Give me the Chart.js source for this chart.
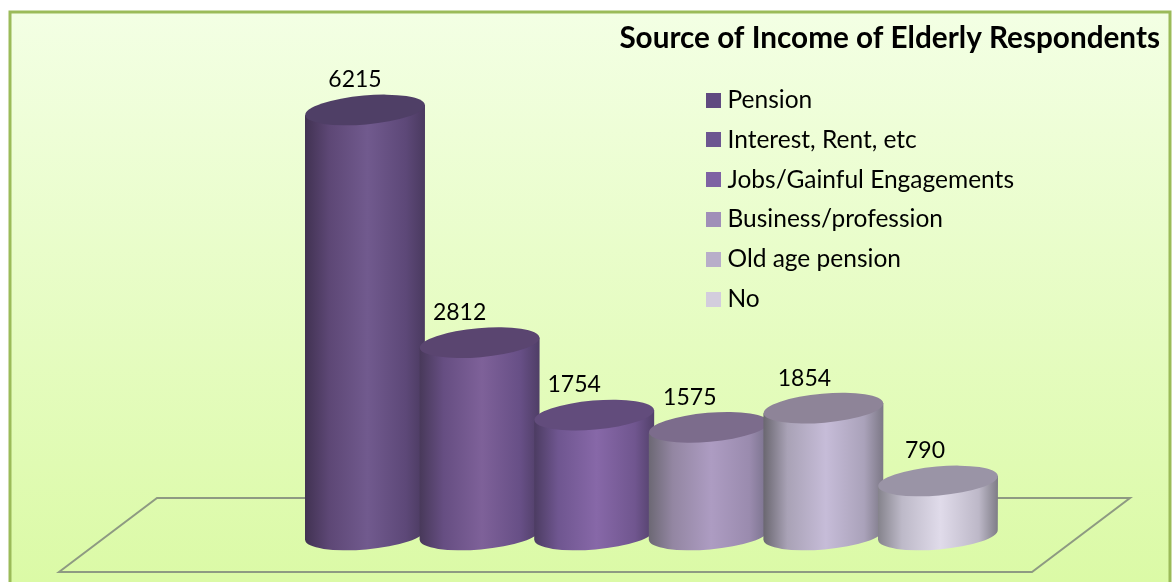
<!DOCTYPE html>
<html>
<head>
<meta charset="utf-8">
<script src="https://cdn.jsdelivr.net/npm/chart.js@4"></script>
<style>html,body{margin:0;padding:0;background:#fff}canvas{display:block}</style>
</head>
<body>
<canvas id="c" width="1173" height="582"></canvas>
<script>
const chartTitle = 'Source of Income of Elderly Respondents';
const categories = ['Pension', 'Interest, Rent, etc', 'Jobs/Gainful Engagements', 'Business/profession', 'Old age pension', 'No'];
const values = [6215, 2812, 1754, 1575, 1854, 790];

const legendColors = ['#604a80', '#6c5690', '#7e62a3', '#a08fb8', '#b8aec9', '#d3cddd'];
const sideStops = [
  ['#413252', '#5d4775', '#715a8e', '#5d4878', '#4a3a5f'],
  ['#48395a', '#664e82', '#7e6199', '#674f86', '#4f3e66'],
  ['#4c3c62', '#6f5690', '#8768a8', '#70568f', '#52406a'],
  ['#6c6874', '#9386a2', '#ad9cc2', '#9a8bae', '#77708a'],
  ['#6a6770', '#a9a2b6', '#c6bcd8', '#aaa2ba', '#7c7886'],
  ['#85838c', '#bdb9c8', '#e0dbea', '#bdb8c8', '#7e7c86']
];
const capColors = ['#4f3f66', '#5a4570', '#624c7c', '#7c6c8c', '#8e8498', '#9a94a6'];
const labelShift = [-10, -20, -20, -19, -19, -13];

const TILT = -5 * Math.PI / 180;
const CAP_RY = 14.5;

const shapes = {
  id: 'shapes',
  afterLayout(chart) {
    const lg = chart.legend;
    const w = lg.right - lg.left, h = lg.bottom - lg.top;
    lg.left = 696.45; lg.right = lg.left + w;
    lg.top = 72.45; lg.bottom = lg.top + h;
    const t = chart.titleBlock;
    t.left = 500; t.right = 1160;
  },
  beforeDraw(chart) {
    const c = chart.ctx;
    c.save();
    c.fillStyle = '#ffffff';
    c.fillRect(0, 0, chart.width, chart.height);
    const g = c.createLinearGradient(0, 12, 0, 582);
    g.addColorStop(0, '#f3ffe4');
    g.addColorStop(1, '#dbfaa6');
    c.fillStyle = g;
    c.fillRect(10, 12, 1160, 572);
    c.strokeStyle = '#9bbb59';
    c.lineWidth = 3;
    c.strokeRect(10, 12, 1160, 575);
    c.strokeStyle = '#8e9a82';
    c.lineWidth = 2;
    c.beginPath();
    c.moveTo(59, 572); c.lineTo(157, 498); c.lineTo(1130, 498); c.lineTo(1032, 572); c.closePath();
    c.stroke();
    c.restore();
  },
  beforeDatasetDraw(chart, args) {
    const c = chart.ctx;
    const els = chart.getDatasetMeta(args.index).data;
    els.forEach((el, i) => {
      const rx = el.width / 2;
      const g = c.createLinearGradient(el.x - rx, 0, el.x + rx, 0);
      const s = sideStops[i];
      [0, 0.2, 0.52, 0.84, 1].forEach((p, k) => g.addColorStop(p, s[k]));
      const dy = Math.tan(-TILT) * rx * 0.98;
      c.save();
      c.beginPath();
      c.moveTo(el.x - rx, el.y + dy);
      c.lineTo(el.x - rx, el.base + dy);
      c.ellipse(el.x, el.base, rx, CAP_RY, TILT, Math.PI, 0, true);
      c.lineTo(el.x + rx, el.y - dy);
      c.closePath();
      c.fillStyle = g;
      c.fill();
      c.beginPath();
      c.ellipse(el.x, el.y, rx, CAP_RY, TILT, 0, Math.PI * 2);
      c.fillStyle = capColors[i];
      c.fill();
      c.restore();
    });
    return false;
  },
  afterDatasetsDraw(chart) {
    const c = chart.ctx;
    const els = chart.getDatasetMeta(0).data;
    c.save();
    c.font = '23px Lato';
    c.fillStyle = '#000';
    c.textAlign = 'center';
    c.textBaseline = 'middle';
    els.forEach((el, i) => c.fillText(String(values[i]), el.x + labelShift[i], el.y - 30));
    c.restore();
  }
};

function swatch(color) {
  const s = document.createElement('canvas');
  s.width = 15; s.height = 15;
  const x = s.getContext('2d');
  x.fillStyle = color;
  x.fillRect(0, 0, 15, 15);
  return s;
}

new Chart(document.getElementById('c'), {
  type: 'bar',
  data: {
    labels: categories,
    datasets: [{ label: 'Respondents', data: values, backgroundColor: legendColors }]
  },
  options: {
    responsive: false,
    animation: false,
    events: [],
    barPercentage: 1.047,
    categoryPercentage: 1,
    layout: { padding: { left: 307.7, right: 177.7, top: 0, bottom: 47 } },
    scales: {
      x: { display: false },
      y: { display: false, min: 0, max: 7000 }
    },
    plugins: {
      tooltip: { enabled: false },
      title: {
        display: true,
        text: chartTitle,
        align: 'end',
        color: '#000',
        font: { family: 'Lato', size: 29.7, weight: 'bold', lineHeight: 1.2 },
        padding: { top: 20.5, bottom: 0.16 }
      },
      legend: {
        position: 'chartArea',
        align: 'start',
        labels: {
          color: '#111',
          font: { family: 'Lato', size: 24.5 },
          usePointStyle: true,
          pointStyleWidth: 3.5,
          boxHeight: 15,
          padding: 15.3,
          generateLabels: () => categories.map((t, i) => ({
            text: t, fillStyle: legendColors[i], strokeStyle: legendColors[i], lineWidth: 0,
            pointStyle: swatch(legendColors[i]), datasetIndex: 0, index: i, hidden: false
          }))
        }
      }
    }
  },
  plugins: [shapes]
});
</script>
</body>
</html>
